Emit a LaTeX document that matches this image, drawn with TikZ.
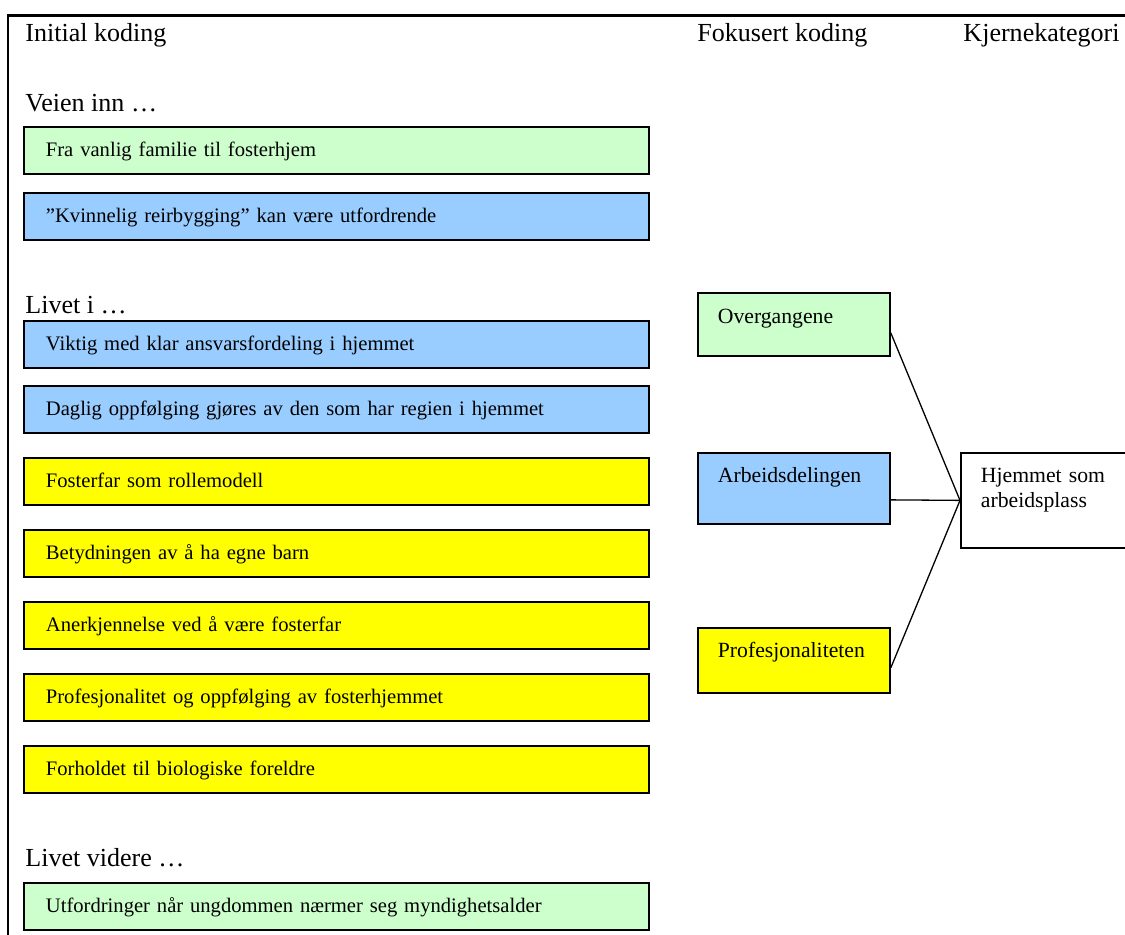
\documentclass[tikz,border=0pt]{standalone}
\usepackage{fontspec}
\setmainfont{Liberation Serif}
\usetikzlibrary{positioning}
\definecolor{grnfill}{RGB}{204,255,204}
\definecolor{blufill}{RGB}{153,204,255}
\definecolor{ylwfill}{RGB}{255,255,0}

\begin{document}
\begin{tikzpicture}[
    hdr/.style={anchor=base west, inner sep=0pt, font=\fontsize{12}{14}\selectfont},
    initbox/.style={draw, line width=0.85pt, anchor=north west, inner xsep=0.356cm, inner ysep=0pt,
        text width=9.413cm, align=left, text height=0.486cm, text depth=0.275cm,
        font=\fontsize{9.5}{11}\selectfont},
    fokbox/.style={draw, line width=0.85pt, anchor=north west, inner xsep=0.324cm, inner ysep=0pt,
        text width=2.462cm, align=left, text height=0.486cm,
        font=\fontsize{10}{11.5}\selectfont}]
            \clip (0,0) rectangle (18.225,15.147);
            % frame
            \draw[line width=1pt] (0.13,0) -- (0.13,14.896) -- (18.3,14.896);
            % column titles
            \node[hdr] (h1) at (0.405,14.475) {Initial koding};
            \node[hdr] (h2) at (11.291,14.475) {Fokusert koding};
            \node[hdr] (h3) at (15.601,14.475) {Kjernekategori};
            % initial coding
            \node[hdr] (g1) at (0.405,13.333) {Veien inn …};
            \node[initbox, fill=grnfill] (i1) at (0.373,13.106) {Fra vanlig familie til fosterhjem};
            \node[initbox, fill=blufill] (i2) at (0.373,12.037) {”Kvinnelig reirbygging” kan være utfordrende};
            \node[hdr] (g2) at (0.405,10.076) {Livet i …};
            \node[initbox, fill=blufill] (i3) at (0.373,9.963) {Viktig med klar ansvarsfordeling i hjemmet};
            \node[initbox, fill=blufill] (i4) at (0.373,8.910) {Daglig oppfølging gjøres av den som har regien i hjemmet};
            \node[initbox, fill=ylwfill] (i5) at (0.373,7.744) {Fosterfar som rollemodell};
            \node[initbox, fill=ylwfill] (i6) at (0.373,6.577) {Betydningen av å ha egne barn};
            \node[initbox, fill=ylwfill] (i7) at (0.373,5.411) {Anerkjennelse ved å være fosterfar};
            \node[initbox, fill=ylwfill] (i8) at (0.373,4.244) {Profesjonalitet og oppfølging av fosterhjemmet};
            \node[initbox, fill=ylwfill] (i9) at (0.373,3.078) {Forholdet til biologiske foreldre};
            \node[hdr] (g3) at (0.405,1.102) {Livet videre …};
            \node[initbox, fill=grnfill] (i10) at (0.373,0.859) {Utfordringer når ungdommen nærmer seg myndighetsalder};
            % focused coding
            \node[fokbox, fill=grnfill, text depth=0.518cm, text height=0.502cm] (f1) at (11.291,10.417) {Overgangene};
            \node[fokbox, fill=blufill, text depth=0.664cm] (f2) at (11.291,7.825) {Arbeidsdelingen};
            \node[fokbox, fill=ylwfill, text depth=0.567cm] (f3) at (11.291,4.990) {Profesjonaliteten};
            % core category
            \node[fokbox, text width=2.171cm, text depth=1.053cm] (k1) at (15.552,7.825) {Hjemmet som\\arbeidsplass};
            \draw[line width=0.6pt] ([yshift=-0.138cm]f1.east) -- (k1.west);
            \draw[line width=0.6pt] ([yshift=-0.186cm]f2.east) -- (k1.west);
            \draw[line width=0.6pt] ([yshift=-0.120cm]f3.east) -- (k1.west);
        \end{tikzpicture}
\end{document}
